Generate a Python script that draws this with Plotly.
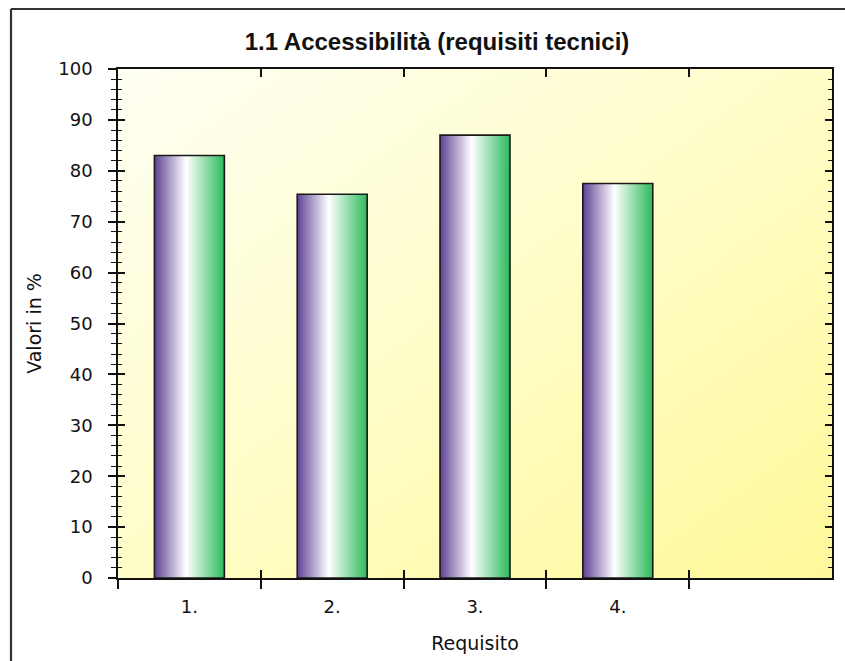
import base64
import plotly.graph_objects as go

# ---- data ----
categories = ["1.", "2.", "3.", "4."]
values = [83.0, 75.4, 87.0, 77.5]
y_ticks = list(range(0, 101, 10))
title_text = "1.1 Accessibilità (requisiti tecnici)"
x_title = "Requisito"
y_title = "Valori in %"

# ---- styling ----
W = 0.49          # bar width in category units
N = 48            # gradient slices per bar
stops = [(0.0, (0x5E, 0x42, 0x94)), (0.45, (0xFF, 0xFF, 0xFF)), (1.0, (0x2C, 0xBA, 0x5C))]


def grad(t):
    for (t0, c0), (t1, c1) in zip(stops[:-1], stops[1:]):
        if t <= t1:
            f = (t - t0) / (t1 - t0)
            return "rgb(%d,%d,%d)" % tuple(round(a + (b - a) * f) for a, b in zip(c0, c1))
    return "rgb(%d,%d,%d)" % stops[-1][1]


fig = go.Figure()
for i in range(N):
    start = -W / 2 + i * W / N
    fig.add_trace(go.Bar(
        x=categories, y=values,
        width=[W / 2 - start] * len(categories),
        offset=[start] * len(categories),
        marker=dict(color=grad((i + 0.5) / N), line=dict(width=0)),
        showlegend=False, hoverinfo="skip",
    ))
# outline
fig.add_trace(go.Bar(
    x=categories, y=values,
    width=[W] * len(categories), offset=[-W / 2] * len(categories),
    marker=dict(color="rgba(0,0,0,0)", line=dict(color="#1a1a1a", width=1.6)),
    showlegend=False, name="Valori in %",
))

# background gradient as an SVG image
svg = (
    '<svg xmlns="http://www.w3.org/2000/svg" width="714" height="509" viewBox="0 0 714 509" preserveAspectRatio="none">'
    '<defs><linearGradient id="g" x1="0" y1="0" x2="1" y2="1">'
    '<stop offset="0" stop-color="#FFFFF4"/>'
    '<stop offset="0.5" stop-color="#FFFDC8"/>'
    '<stop offset="1" stop-color="#FFF89A"/>'
    '</linearGradient></defs>'
    '<rect width="714" height="509" fill="url(#g)"/></svg>'
)
src = "data:image/svg+xml;base64," + base64.b64encode(svg.encode()).decode()

L, R, T, B = 118, 13, 69, 83
PW, PH = 845 - L - R, 661 - T - B


def px_x(p):
    return (p - L) / PW


def px_y(p):
    return (661 - B - p) / PH


tickfont = dict(family="DejaVu Sans", size=18, color="#111111")

fig.update_layout(
    width=845, height=661,
    margin=dict(l=L, r=R, t=T, b=B, autoexpand=False),
    paper_bgcolor="white",
    plot_bgcolor="rgba(0,0,0,0)",
    barmode="overlay",
    title=dict(text="<b>%s</b>" % title_text, x=437 / 845, xanchor="center",
               y=1 - 42 / 661, yanchor="middle",
               font=dict(family="Liberation Sans", size=24, color="#111111")),
    images=[dict(source=src, xref="paper", yref="paper", x=0, y=1, sizex=1, sizey=1,
                 xanchor="left", yanchor="top", sizing="stretch", layer="below")],
    xaxis=dict(
        type="category", range=[-0.5, 4.5], tickson="boundaries",
        ticks="outside", ticklen=9, tickwidth=1.5, tickcolor="#111",
        showline=True, linecolor="#111", linewidth=1.6, showgrid=False, zeroline=False,
        tickfont=tickfont, ticklabelstandoff=12,
        title=dict(text=x_title, font=dict(family="DejaVu Sans", size=19, color="#111"), standoff=20),
    ),
    xaxis2=dict(
        overlaying="x", range=[-0.5, 4.5], side="bottom",
        tickmode="array", tickvals=[0.5, 1.5, 2.5, 3.5], showticklabels=False,
        ticks="inside", ticklen=8, tickwidth=1.5, tickcolor="#111",
        showline=True, linecolor="#111", linewidth=1.6, mirror="ticks",
        showgrid=False, zeroline=False,
    ),
    yaxis=dict(
        range=[0, 100], tickmode="array", tickvals=y_ticks,
        ticks="outside", ticklen=8, tickwidth=1.5, tickcolor="#111",
        minor=dict(dtick=2, ticks="outside", ticklen=5, tickwidth=1.2, tickcolor="#111", showgrid=False),
        showline=True, linecolor="#111", linewidth=1.6, showgrid=False, zeroline=False,
        tickfont=tickfont, ticklabelstandoff=12,
        title=dict(text=y_title, font=dict(family="DejaVu Sans", size=19, color="#111"), standoff=12),
    ),
    yaxis2=dict(
        overlaying="y", range=[0, 100], side="left",
        tickmode="array", tickvals=y_ticks, showticklabels=False,
        ticks="inside", ticklen=7, tickwidth=1.5, tickcolor="#111",
        minor=dict(dtick=2, ticks="inside", ticklen=4, tickwidth=1.2, tickcolor="#111", showgrid=False),
        showline=True, linecolor="#111", linewidth=1.6, mirror="ticks",
        showgrid=False, zeroline=False,
    ),
    shapes=[
        dict(type="line", xref="paper", yref="paper", x0=px_x(11), x1=px_x(860),
             y0=px_y(9), y1=px_y(9), line=dict(color="#333", width=2.2)),
        dict(type="line", xref="paper", yref="paper", x0=px_x(11), x1=px_x(11),
             y0=px_y(9), y1=px_y(680), line=dict(color="#333", width=2.2)),
    ],
)
# dummy invisible trace so the overlay axes are drawn
fig.add_trace(go.Scatter(x=[None], y=[None], xaxis="x2", yaxis="y2", showlegend=False, hoverinfo="skip"))

fig.write_html("out.html", config={"displayModeBar": False},
               post_script="document.body.style.margin='0';document.body.style.overflow='hidden';")
